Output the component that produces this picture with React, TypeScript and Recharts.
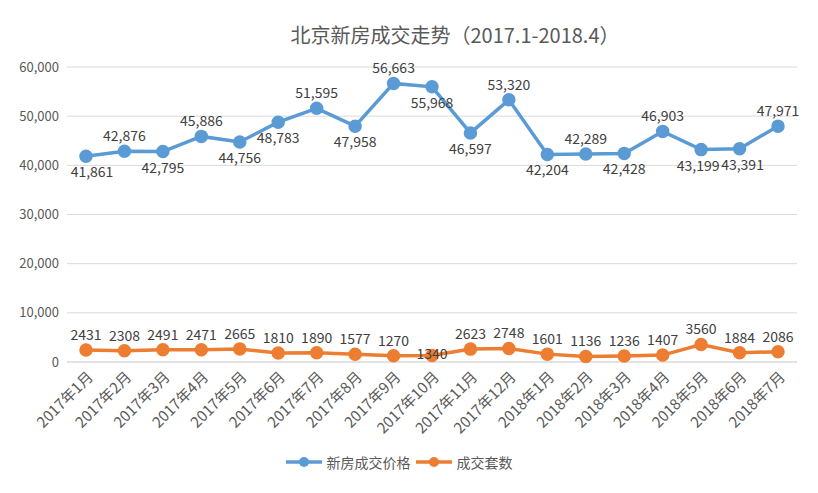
import React from 'react';
import { CartesianGrid, Legend, Line, LineChart, XAxis, YAxis } from 'recharts';

const months = [
  '2017年1月', '2017年2月', '2017年3月', '2017年4月', '2017年5月', '2017年6月',
  '2017年7月', '2017年8月', '2017年9月', '2017年10月', '2017年11月', '2017年12月',
  '2018年1月', '2018年2月', '2018年3月', '2018年4月', '2018年5月', '2018年6月', '2018年7月',
];
const prices = [
  41861, 42876, 42795, 45886, 44756, 48783, 51595, 47958, 56663, 55968,
  46597, 53320, 42204, 42289, 42428, 46903, 43199, 43391, 47971,
];
const deals = [
  2431, 2308, 2491, 2471, 2665, 1810, 1890, 1577, 1270, 1340,
  2623, 2748, 1601, 1136, 1236, 1407, 3560, 1884, 2086,
];
const yTicks = [0, 10000, 20000, 30000, 40000, 50000, 60000];

// which price labels sit under the point (Excel placed them by hand)
const priceBelow = new Set([0, 2, 4, 5, 7, 9, 10, 12, 14, 16, 17]);

const data = months.map((m, i) => ({ month: m, price: prices[i], deals: deals[i] }));

const FONT = '"Noto Sans CJK SC", "Noto Sans", sans-serif';
const BLUE = '#5b9bd5';
const ORANGE = '#ed7d31';
const fmt = (v: number) => v.toLocaleString('en-US');

const MonthTick = (props: any) => {
  const { x, y, payload } = props;
  return (
    <g transform={`translate(${x + 8},${y + 8})`}>
      <text textAnchor="end" transform="rotate(-45)" fontSize={15} fill="#595959" fontFamily={FONT}>
        {payload.value}
      </text>
    </g>
  );
};

const PriceLabel = (props: any) => {
  const { x, y, value, index } = props;
  const dy = priceBelow.has(index) ? 21 : -10;
  const dx = index === 0 ? 6 : index === 16 ? -3 : index === 17 ? 3 : 0;
  return (
    <text x={x + dx} y={y + dy} textAnchor="middle" fontSize={14} fill="#404040" fontFamily={FONT}>
      {fmt(value)}
    </text>
  );
};

const DealLabel = (props: any) => {
  const { x, y, value, index } = props;
  const dy = index === 9 ? 4 : -10;
  return (
    <text x={x} y={y + dy} textAnchor="middle" fontSize={14} fill="#404040" fontFamily={FONT}>
      {value}
    </text>
  );
};

const legendItems = [
  { name: '新房成交价格', color: BLUE },
  { name: '成交套数', color: ORANGE },
];

const LegendContent = () => (
  <div style={{ display: 'flex', justifyContent: 'center', gap: 4, fontSize: 14, color: '#595959', fontFamily: FONT }}>
    {legendItems.map((it) => (
      <span key={it.name} style={{ display: 'inline-flex', alignItems: 'center' }}>
        <svg width={38} height={12} style={{ marginRight: 4 }}>
          <line x1={1} y1={6} x2={37} y2={6} stroke={it.color} strokeWidth={3.5} />
          <circle cx={19} cy={6} r={5} fill={it.color} />
        </svg>
        {it.name}
      </span>
    ))}
  </div>
);

export default function App() {
  return (
    <div style={{ position: 'absolute', left: 0, top: 0, width: 818, height: 493, background: '#fff', fontFamily: FONT }}>
      <div
        style={{
          position: 'absolute',
          top: 20,
          left: 0,
          width: 910,
          textAlign: 'center',
          fontSize: 20,
          color: '#595959',
        }}
      >
        北京新房成交走势（2017.1-2018.4）
      </div>
      <LineChart width={818} height={493} data={data} margin={{ top: 67, right: 21, left: 0, bottom: 21 }}>
        <CartesianGrid vertical={false} stroke="#d9d9d9" />
        <XAxis
          dataKey="month"
          interval={0}
          height={90}
          padding={{ left: 19, right: 19 }}
          tick={<MonthTick />}
          axisLine={{ stroke: '#d9d9d9' }}
          tickLine={false}
        />
        <YAxis
          width={67}
          domain={[0, 60000]}
          ticks={yTicks}
          tickFormatter={fmt}
          axisLine={false}
          tickLine={false}
          tick={{ fontSize: 13, fill: '#595959', fontFamily: FONT }}
        />
        <Legend verticalAlign="bottom" content={<LegendContent />} />
        <Line
          type="linear"
          dataKey="price"
          name="新房成交价格"
          stroke={BLUE}
          strokeWidth={3.5}
          dot={{ r: 5, fill: BLUE, stroke: BLUE }}
          label={<PriceLabel />}
          isAnimationActive={false}
        />
        <Line
          type="linear"
          dataKey="deals"
          name="成交套数"
          stroke={ORANGE}
          strokeWidth={3.5}
          dot={{ r: 5, fill: ORANGE, stroke: ORANGE }}
          label={<DealLabel />}
          isAnimationActive={false}
        />
      </LineChart>
    </div>
  );
}
